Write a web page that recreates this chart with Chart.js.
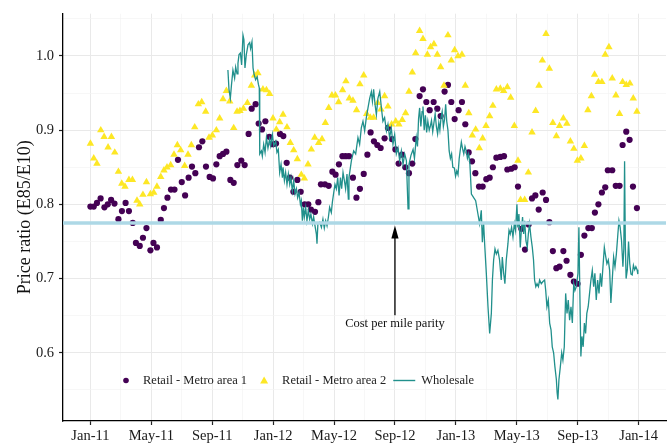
<!DOCTYPE html>
<html>
<head>
<meta charset="utf-8">
<script src="https://cdn.jsdelivr.net/npm/chart.js@4.4.1/dist/chart.umd.min.js"></script>
<style>
  html, body { margin: 0; padding: 0; background: #ffffff; }
  #wrap { width: 672px; height: 445px; }
</style>
</head>
<body>
<div id="wrap"><canvas id="c" width="672" height="445"></canvas></div>
<script>
// ---------- DATA (x = months since Jan 2011) ----------
const xTickMonths = [0, 4, 8, 12, 16, 20, 24, 28, 32, 36];
const xTickLabels = ['Jan-11','May-11','Sep-11','Jan-12','May-12','Sep-12','Jan-13','May-13','Sep-13','Jan-14'];
const yTickValues = [0.6, 0.7, 0.8, 0.9, 1.0];
const parityRatio = 0.775;
const parityLabel = 'Cost per mile parity';
const parityArrowMonth = 20;

const metro1Months = [0.00,0.22,0.43,0.67,0.92,1.14,1.36,1.58,1.84,2.07,2.31,2.53,2.78,2.99,3.24,3.45,3.68,3.94,4.14,4.37,4.62,4.83,5.06,5.29,5.52,5.75,6.00,6.22,6.45,6.67,6.89,7.13,7.35,7.59,7.83,8.05,8.27,8.49,8.71,8.93,9.19,9.41,9.65,9.91,10.13,10.39,10.59,10.85,11.05,11.27,11.49,11.75,11.97,12.19,12.45,12.67,12.89,13.10,13.33,13.59,13.81,14.07,14.31,14.48,14.75,14.97,15.14,15.40,15.65,15.89,16.10,16.32,16.55,16.76,16.98,17.24,17.47,17.70,17.95,18.19,18.40,18.62,18.84,19.06,19.32,19.54,19.80,20.03,20.24,20.46,20.68,20.92,21.14,21.34,21.62,21.84,22.06,22.28,22.54,22.78,23.00,23.26,23.48,23.70,23.92,24.18,24.40,24.62,24.84,25.06,25.28,25.52,25.76,26.00,26.22,26.43,26.66,26.92,27.16,27.38,27.64,27.86,28.08,28.30,28.54,28.78,29.00,29.22,29.44,29.70,29.92,30.14,30.37,30.60,30.81,31.06,31.27,31.52,31.75,31.99,32.21,32.44,32.70,32.93,33.13,33.36,33.59,33.81,33.98,34.27,34.50,34.75,34.95,35.19,35.41,35.63,35.89];
const metro1Ratio = [0.797,0.797,0.802,0.808,0.796,0.800,0.806,0.801,0.780,0.791,0.802,0.791,0.775,0.748,0.744,0.755,0.768,0.738,0.748,0.742,0.779,0.795,0.809,0.820,0.820,0.860,0.830,0.812,0.836,0.851,0.842,0.877,0.885,0.851,0.837,0.835,0.854,0.865,0.868,0.871,0.833,0.829,0.853,0.859,0.853,0.895,0.929,0.935,0.909,0.901,0.912,0.891,0.881,0.882,0.895,0.892,0.856,0.836,0.817,0.833,0.817,0.800,0.800,0.793,0.790,0.803,0.827,0.827,0.825,0.844,0.840,0.854,0.865,0.865,0.865,0.836,0.809,0.821,0.841,0.867,0.897,0.885,0.880,0.876,0.889,0.903,0.888,0.874,0.855,0.867,0.850,0.842,0.855,0.888,0.946,0.955,0.938,0.927,0.938,0.929,0.919,0.952,0.961,0.938,0.915,0.927,0.938,0.908,0.870,0.858,0.842,0.824,0.824,0.834,0.836,0.850,0.863,0.864,0.865,0.847,0.848,0.850,0.824,0.767,0.739,0.773,0.808,0.812,0.793,0.816,0.806,0.776,0.737,0.714,0.716,0.737,0.724,0.705,0.696,0.693,0.732,0.758,0.768,0.768,0.789,0.800,0.816,0.823,0.846,0.846,0.825,0.825,0.880,0.898,0.887,0.824,0.795];

const metro2Months = [0.00,0.22,0.43,0.68,0.90,1.16,1.38,1.60,1.84,2.06,2.27,2.53,2.76,3.06,3.24,3.45,3.68,3.94,4.16,4.37,4.62,4.83,5.03,5.27,5.49,5.71,5.93,6.19,6.41,6.63,6.85,7.09,7.31,7.57,7.79,8.01,8.27,8.49,8.71,8.93,9.15,9.41,9.63,9.82,10.05,10.31,10.57,10.79,11.00,11.33,11.56,11.77,11.99,12.21,12.43,12.65,12.91,13.13,13.35,13.59,13.85,14.05,14.29,14.51,14.73,14.99,15.21,15.43,15.65,15.86,16.09,16.30,16.56,16.78,17.00,17.24,17.48,17.70,17.95,18.14,18.38,18.60,18.86,19.08,19.32,19.54,19.78,20.05,20.26,20.48,20.70,20.92,21.14,21.36,21.62,21.84,22.13,22.34,22.56,22.78,23.00,23.22,23.48,23.70,23.92,24.14,24.40,24.62,24.85,25.08,25.30,25.54,25.76,25.98,26.22,26.43,26.66,26.92,27.14,27.38,27.60,27.84,28.08,28.25,28.52,28.76,29.00,29.24,29.46,29.68,29.92,30.14,30.37,30.60,30.81,31.06,31.29,31.52,31.75,31.98,32.21,32.44,32.67,32.90,33.11,33.36,33.59,33.81,34.05,34.27,34.51,34.75,34.95,35.19,35.43,35.65,35.89];
const metro2Ratio = [0.882,0.862,0.855,0.900,0.891,0.877,0.891,0.870,0.844,0.828,0.824,0.833,0.833,0.805,0.800,0.813,0.830,0.814,0.816,0.824,0.837,0.846,0.850,0.853,0.867,0.880,0.873,0.852,0.867,0.880,0.904,0.935,0.938,0.925,0.890,0.893,0.900,0.916,0.942,0.953,0.939,0.903,0.925,0.926,0.929,0.937,0.960,0.974,0.977,0.955,0.954,0.949,0.916,0.901,0.911,0.921,0.904,0.883,0.873,0.861,0.840,0.835,0.854,0.874,0.890,0.883,0.888,0.910,0.930,0.947,0.947,0.938,0.954,0.966,0.943,0.940,0.927,0.962,0.974,0.922,0.917,0.917,0.937,0.928,0.946,0.932,0.908,0.912,0.908,0.914,0.923,0.952,0.978,1.004,1.034,1.023,1.002,1.012,1.016,1.002,0.985,0.960,1.028,0.994,1.008,1.000,1.002,0.960,0.923,0.893,0.901,0.876,0.889,0.906,0.919,0.933,0.955,0.956,0.953,0.958,0.944,0.906,0.859,0.806,0.806,0.843,0.897,0.926,0.960,0.994,1.030,0.983,0.910,0.892,0.906,0.916,0.909,0.885,0.875,0.859,0.862,0.879,0.927,0.946,0.975,0.965,0.965,1.002,1.012,0.970,0.947,0.922,0.965,0.961,0.963,0.943,0.925];

const wholesaleMonths = [9.03,9.10,9.19,9.26,9.36,9.47,9.54,9.63,9.69,9.76,9.85,9.93,10.02,10.08,10.15,10.24,10.35,10.46,10.52,10.61,10.68,10.75,10.85,10.95,11.03,11.09,11.12,11.23,11.29,11.38,11.47,11.56,11.66,11.77,11.84,11.95,12.04,12.17,12.25,12.34,12.43,12.52,12.61,12.65,12.74,12.82,12.91,13.00,13.09,13.17,13.26,13.35,13.44,13.53,13.61,13.70,13.79,13.85,13.92,13.99,14.05,14.14,14.22,14.31,14.40,14.48,14.58,14.66,14.75,14.84,14.88,14.94,15.06,15.17,15.27,15.36,15.45,15.54,15.63,15.71,15.82,15.89,15.98,16.06,16.15,16.24,16.33,16.42,16.50,16.59,16.68,16.76,16.85,16.94,16.98,17.14,17.29,17.42,17.57,17.68,17.79,17.90,18.01,18.12,18.23,18.34,18.45,18.52,18.60,18.69,18.78,18.88,19.00,19.11,19.21,19.32,19.44,19.54,19.65,19.76,19.87,19.98,20.09,20.20,20.31,20.42,20.53,20.64,20.75,20.86,20.92,21.05,21.19,21.28,21.40,21.48,21.55,21.62,21.70,21.78,21.84,21.92,22.00,22.08,22.16,22.25,22.33,22.40,22.48,22.56,22.64,22.72,22.80,22.88,22.95,23.03,23.10,23.18,23.26,23.33,23.40,23.48,23.56,23.64,23.72,23.80,23.90,23.98,24.06,24.14,24.22,24.30,24.36,24.44,24.52,24.60,24.68,24.76,24.84,24.92,25.02,25.17,25.30,25.45,25.56,25.67,25.74,25.82,25.89,26.00,26.11,26.22,26.33,26.40,26.48,26.57,26.66,26.76,26.87,26.98,27.05,27.14,27.22,27.31,27.42,27.49,27.57,27.66,27.75,27.84,27.92,28.01,28.07,28.14,28.23,28.30,28.38,28.45,28.52,28.60,28.69,28.76,28.84,28.93,29.02,29.10,29.17,29.25,29.33,29.42,29.50,29.61,29.72,29.83,29.90,29.98,30.07,30.16,30.25,30.33,30.42,30.50,30.60,30.65,30.70,30.77,30.86,30.95,31.03,31.12,31.21,31.30,31.38,31.47,31.56,31.65,31.74,31.82,31.91,32.02,32.08,32.14,32.21,32.28,32.36,32.44,32.52,32.60,32.69,32.78,32.87,32.96,33.05,33.13,33.22,33.31,33.40,33.49,33.57,33.66,33.75,33.84,33.92,34.01,34.10,34.18,34.27,34.36,34.45,34.54,34.64,34.71,34.79,34.88,34.97,35.03,35.08,35.13,35.18,35.26,35.34,35.42,35.50,35.58,35.66,35.74,35.82,35.90,35.95];
const wholesaleRatio = [0.981,0.955,0.943,0.960,0.981,0.970,0.985,0.976,0.990,1.002,1.004,0.988,1.028,1.022,0.984,1.002,1.015,1.018,1.010,1.019,0.984,0.975,0.968,0.972,0.962,0.957,0.868,0.872,0.865,0.881,0.870,0.890,0.876,0.888,0.879,0.894,0.879,0.885,0.870,0.874,0.843,0.854,0.836,0.850,0.832,0.843,0.827,0.841,0.827,0.836,0.818,0.832,0.814,0.821,0.809,0.816,0.800,0.805,0.778,0.796,0.783,0.796,0.778,0.792,0.780,0.787,0.774,0.783,0.771,0.760,0.747,0.774,0.776,0.769,0.780,0.768,0.778,0.771,0.783,0.796,0.789,0.803,0.816,0.827,0.821,0.836,0.812,0.836,0.821,0.843,0.832,0.821,0.841,0.807,0.836,0.859,0.872,0.868,0.890,0.881,0.903,0.912,0.899,0.917,0.930,0.943,0.952,0.939,0.955,0.935,0.921,0.943,0.952,0.930,0.912,0.917,0.899,0.908,0.890,0.903,0.881,0.894,0.868,0.876,0.859,0.872,0.854,0.868,0.859,0.794,0.854,0.866,0.874,0.862,0.890,0.878,0.915,0.930,0.905,0.925,0.932,0.900,0.920,0.897,0.912,0.900,0.906,0.913,0.898,0.910,0.922,0.905,0.895,0.910,0.900,0.918,0.925,0.905,0.915,0.935,0.912,0.900,0.872,0.862,0.868,0.850,0.849,0.838,0.845,0.840,0.862,0.875,0.884,0.875,0.868,0.878,0.872,0.862,0.868,0.855,0.814,0.809,0.805,0.787,0.774,0.792,0.749,0.776,0.747,0.707,0.662,0.626,0.653,0.698,0.725,0.740,0.733,0.738,0.725,0.698,0.729,0.707,0.693,0.725,0.747,0.765,0.760,0.769,0.756,0.774,0.765,0.800,0.769,0.787,0.742,0.765,0.783,0.760,0.778,0.751,0.742,0.760,0.774,0.756,0.742,0.725,0.698,0.689,0.693,0.689,0.698,0.693,0.696,0.698,0.684,0.662,0.671,0.640,0.631,0.608,0.600,0.582,0.564,0.546,0.537,0.564,0.581,0.600,0.590,0.608,0.680,0.653,0.671,0.644,0.662,0.640,0.693,0.684,0.689,0.707,0.769,0.684,0.595,0.622,0.608,0.640,0.626,0.653,0.662,0.680,0.698,0.711,0.689,0.707,0.671,0.698,0.680,0.707,0.689,0.716,0.742,0.730,0.720,0.725,0.711,0.667,0.698,0.729,0.716,0.733,0.760,0.778,0.769,0.751,0.716,0.740,0.858,0.745,0.700,0.712,0.750,0.720,0.706,0.705,0.718,0.712,0.716,0.712,0.706];

const seriesNames = ['Retail - Metro area 1', 'Retail - Metro area 2', 'Wholesale'];
const seriesColors = ['#440154', '#FDE725', '#21908C'];
const parityColor = '#ADD8E6';

// ---------- helpers ----------
const toPoints = (xs, ys) => xs.map((x, i) => ({ x: x, y: ys[i] }));
const X_MIN = -1.8, X_MAX = 37.8, Y_MIN = 0.508, Y_MAX = 1.057;
const xGrid = []; for (let m = 0; m <= 36; m += 2) xGrid.push(m);
const yGrid = []; for (let k = 11; k <= 21; k++) yGrid.push(k / 20);
const isMajorX = v => xTickMonths.includes(v);
const isMajorY = v => Math.abs(v * 10 - Math.round(v * 10)) < 1e-6;
const FONT = "'Liberation Serif', 'Times New Roman', serif";
Chart.defaults.font.family = FONT;

const overlayPlugin = {
  id: 'overlay',
  afterDatasetsDraw(chart) {
    const { ctx, chartArea, scales } = chart;
    const x = scales.x, y = scales.y;
    ctx.save();
    // arrow
    const ax = x.getPixelForValue(parityArrowMonth);
    const yBottom = y.getPixelForValue(0.6505);
    const yTip = y.getPixelForValue(0.7715);
    ctx.strokeStyle = '#000'; ctx.fillStyle = '#000'; ctx.lineWidth = 1.3;
    ctx.beginPath(); ctx.moveTo(ax, yBottom); ctx.lineTo(ax, yTip + 10); ctx.stroke();
    ctx.beginPath(); ctx.moveTo(ax, yTip); ctx.lineTo(ax - 3.6, yTip + 13); ctx.lineTo(ax + 3.6, yTip + 13); ctx.closePath(); ctx.fill();
    // label
    ctx.font = '12.5px ' + FONT; ctx.fillStyle = '#111';
    ctx.textAlign = 'center'; ctx.textBaseline = 'middle';
    ctx.fillText(parityLabel, ax, y.getPixelForValue(0.6385));
    // legend inside panel
    const ly = chartArea.bottom - 40.5;
    ctx.textAlign = 'left';
    let cx = chartArea.left + 63;
    ctx.fillStyle = seriesColors[0];
    ctx.beginPath(); ctx.arc(cx, ly, 2.8, 0, Math.PI * 2); ctx.fill();
    let tx = cx + 17;
    ctx.fillStyle = '#222'; ctx.fillText(seriesNames[0], tx, ly + 0.5);
    cx = tx + ctx.measureText(seriesNames[0]).width + 17;
    ctx.fillStyle = seriesColors[1];
    ctx.beginPath(); ctx.moveTo(cx, ly - 4); ctx.lineTo(cx - 4, ly + 3); ctx.lineTo(cx + 4, ly + 3); ctx.closePath(); ctx.fill();
    tx = cx + 18;
    ctx.fillStyle = '#222'; ctx.fillText(seriesNames[1], tx, ly + 0.5);
    const lx = tx + ctx.measureText(seriesNames[1]).width + 7;
    ctx.strokeStyle = seriesColors[2]; ctx.lineWidth = 1.4;
    ctx.beginPath(); ctx.moveTo(lx, ly); ctx.lineTo(lx + 22, ly); ctx.stroke();
    ctx.fillStyle = '#222'; ctx.fillText(seriesNames[2], lx + 28, ly + 0.5);
    ctx.restore();
  }
};

new Chart(document.getElementById('c'), {
  type: 'scatter',
  data: {
    datasets: [
      { label: 'parity', type: 'line', data: [{ x: X_MIN, y: parityRatio }, { x: X_MAX, y: parityRatio }],
        borderColor: parityColor, borderWidth: 3.5, pointRadius: 0, order: 1 },
      { label: seriesNames[2], type: 'line', data: toPoints(wholesaleMonths, wholesaleRatio),
        borderColor: seriesColors[2], borderWidth: 1.3, pointRadius: 0, tension: 0, order: 2 },
      { label: seriesNames[1], data: toPoints(metro2Months, metro2Ratio), pointStyle: 'triangle',
        pointRadius: 4.3, backgroundColor: seriesColors[1], borderColor: seriesColors[1], borderWidth: 0, order: 3 },
      { label: seriesNames[0], data: toPoints(metro1Months, metro1Ratio), pointStyle: 'circle',
        pointRadius: 3.1, backgroundColor: seriesColors[0], borderColor: seriesColors[0], borderWidth: 0, order: 4 }
    ]
  },
  options: {
    responsive: false,
    animation: false,
    devicePixelRatio: 1,
    layout: { padding: { left: 0, right: 6, top: 12, bottom: 0 } },
    plugins: { legend: { display: false }, tooltip: { enabled: false } },
    scales: {
      x: {
        type: 'linear', min: X_MIN, max: X_MAX,
        afterBuildTicks: ax => { ax.ticks = xGrid.map(v => ({ value: v })); },
        afterFit: ax => { ax.height = 24; },
        ticks: {
          autoSkip: false, maxRotation: 0, padding: 2,
          color: '#1a1a1a', font: { size: 14.5, family: FONT },
          callback: v => { const i = xTickMonths.indexOf(v); return i >= 0 ? xTickLabels[i] : ''; }
        },
        grid: {
          color: c => (c.tick && isMajorX(c.tick.value)) ? '#e9e9e9' : '#f4f4f4',
          lineWidth: c => (c.tick && isMajorX(c.tick.value)) ? 1 : 0.7,
          tickColor: c => (c.tick && isMajorX(c.tick.value)) ? '#222' : 'rgba(0,0,0,0)',
          tickLength: 4, tickWidth: 1.2, drawTicks: true
        },
        border: { display: true, color: '#000', width: 1.3 }
      },
      y: {
        type: 'linear', min: Y_MIN, max: Y_MAX,
        afterBuildTicks: ax => { ax.ticks = yGrid.map(v => ({ value: v })); },
        afterFit: ax => { ax.width = 63; },
        ticks: {
          padding: 5, color: '#1a1a1a', font: { size: 14.5, family: FONT },
          callback: v => isMajorY(v) ? v.toFixed(1) : ''
        },
        grid: {
          color: c => (c.tick && isMajorY(c.tick.value)) ? '#e9e9e9' : '#f4f4f4',
          lineWidth: c => (c.tick && isMajorY(c.tick.value)) ? 1 : 0.7,
          tickColor: c => (c.tick && isMajorY(c.tick.value)) ? '#222' : 'rgba(0,0,0,0)',
          tickLength: 4, tickWidth: 1.2, drawTicks: true
        },
        border: { display: true, color: '#000', width: 1.3 },
        title: { display: true, text: 'Price ratio (E85/E10)', color: '#111',
                 font: { size: 18, family: FONT }, padding: { top: 14, bottom: 0 } }
      }
    }
  },
  plugins: [overlayPlugin]
});
</script>
</body>
</html>
